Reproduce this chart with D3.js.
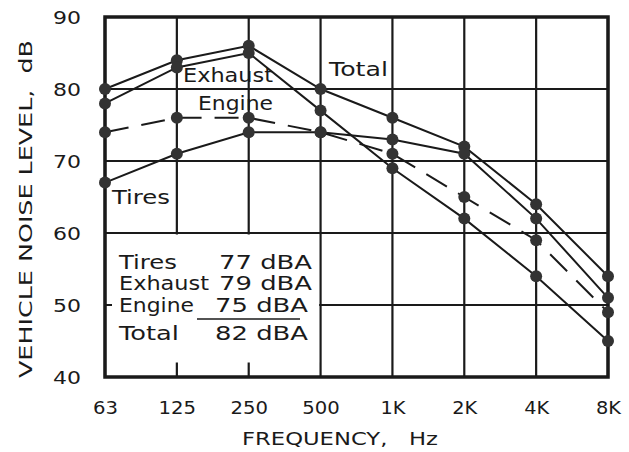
<!DOCTYPE html>
<html><head><meta charset="utf-8">
<script src="https://cdn.jsdelivr.net/npm/d3@7/dist/d3.min.js"></script>
<style>body{margin:0;background:#fff}svg{display:block}text{font-family:"DejaVu Sans",sans-serif;fill:#1a1a1a}</style>
</head><body><svg id="c" width="629" height="452"></svg>
<script>
const categories = ["63","125","250","500","1K","2K","4K","8K"];
const yTicks = [40,50,60,70,80,90];
const total   = [80,84,86,80,76,72,64,54];
const exhaust = [78,83,85,77,69,62,54,45];
const engine  = [74,76,76,74,71,65,59,49];
const tires   = [67,71,74,74,73,71,62,51];
const legendNames = ["Tires","Exhaust","Engine","Total"];
const legendValues = ["77 dBA","79 dBA","75 dBA","82 dBA"];

const svg = d3.select("#c");
const L=105, R=608, T=17, B=377;
const x = d3.scalePoint().domain(categories).range([L,R]);
const y = d3.scaleLinear().domain([40,90]).range([B,T]);

// grid
const g = svg.append("g").attr("stroke","#1a1a1a").attr("stroke-width",2.2);
categories.forEach(c=>g.append("line").attr("x1",x(c)).attr("x2",x(c)).attr("y1",T).attr("y2",B));
yTicks.forEach(v=>g.append("line").attr("x1",L).attr("x2",R).attr("y1",y(v)).attr("y2",y(v)));
// legend box covering the grid
svg.append("rect").attr("x",x("63")+7).attr("y",y(60)+1.5).attr("width",x("500")-x("63")-8.5).attr("height",y(40)-y(60)-16).attr("fill","#fff");
// frame
svg.append("rect").attr("x",L).attr("y",T).attr("width",R-L).attr("height",B-T)
  .attr("fill","none").attr("stroke","#1a1a1a").attr("stroke-width",3.5);

// axis tick labels via d3 axes
const yAxis = svg.append("g").attr("transform",`translate(${L-24},0)`)
  .call(d3.axisLeft(y).tickValues(yTicks).tickSize(0).tickPadding(0));
yAxis.select(".domain").remove();
yAxis.selectAll("text").attr("font-size",17).attr("text-anchor","middle").attr("dx",-14).attr("dy","0.36em")
  .attr("textLength",28).attr("lengthAdjust","spacingAndGlyphs").style("font-family","DejaVu Sans");
const xAxis = svg.append("g").attr("transform",`translate(0,${B+25})`)
  .call(d3.axisBottom(x).tickSize(0).tickPadding(0));
xAxis.select(".domain").remove();
xAxis.selectAll("text").attr("font-size",17).attr("dy","0.71em").style("font-family","DejaVu Sans")
  .each(function(d){ d3.select(this).attr("textLength", d.length*12.5).attr("lengthAdjust","spacingAndGlyphs"); });

// axis titles
svg.append("text").attr("x",340).attr("y",445).attr("text-anchor","middle").attr("font-size",17)
  .attr("textLength",196).attr("lengthAdjust","spacingAndGlyphs").text("FREQUENCY,\u00a0\u00a0\u00a0Hz");
svg.append("text").attr("transform","translate(32,209) rotate(-90)").attr("text-anchor","middle").attr("font-size",17)
  .attr("textLength",338).attr("lengthAdjust","spacingAndGlyphs").text("VEHICLE NOISE LEVEL,\u00a0\u00a0dB");

// series
const series = [
  {name:"Total", values: total, dash:null},
  {name:"Exhaust", values: exhaust, dash:null},
  {name:"Engine", values: engine, dash:"24,13"},
  {name:"Tires", values: tires, dash:null}
];
const line = d3.line().x((d,i)=>x(categories[i])).y(d=>y(d));
series.forEach(s=>{
  svg.append("path").datum(s.values).attr("d",line).attr("fill","none").attr("stroke","#1a1a1a")
    .attr("stroke-width",2).attr("stroke-dasharray",s.dash);
});
series.forEach(s=>{
  svg.selectAll(null).data(s.values).enter().append("circle")
    .attr("cx",(d,i)=>x(categories[i])).attr("cy",d=>y(d)).attr("r",6).attr("fill","#333");
});

// series labels
const labels = [
  {t:"Total", x:329, y:76, w:59},
  {t:"Exhaust", x:183, y:82, w:90},
  {t:"Engine", x:198, y:110, w:75},
  {t:"Tires", x:112, y:204, w:58}
];
labels.forEach(l=>svg.append("text").attr("x",l.x).attr("y",l.y).attr("font-size",19)
  .attr("textLength",l.w).attr("lengthAdjust","spacingAndGlyphs").text(l.t));

// legend table
const rowsY = [269,290,312,340];
const nameW = [58,90,75,60];
legendNames.forEach((n,i)=>svg.append("text").attr("x",119).attr("y",rowsY[i]).attr("font-size",19)
  .attr("textLength",nameW[i]).attr("lengthAdjust","spacingAndGlyphs").text(n));
const valR = [312,312,308,308];
legendValues.forEach((v,i)=>svg.append("text").attr("x",valR[i]-93).attr("y",rowsY[i]).attr("font-size",19)
  .attr("textLength",93).attr("lengthAdjust","spacingAndGlyphs").text(v));
svg.append("line").attr("x1",197).attr("x2",300).attr("y1",319).attr("y2",319).attr("stroke","#1a1a1a").attr("stroke-width",1.5);
</script></body></html>
